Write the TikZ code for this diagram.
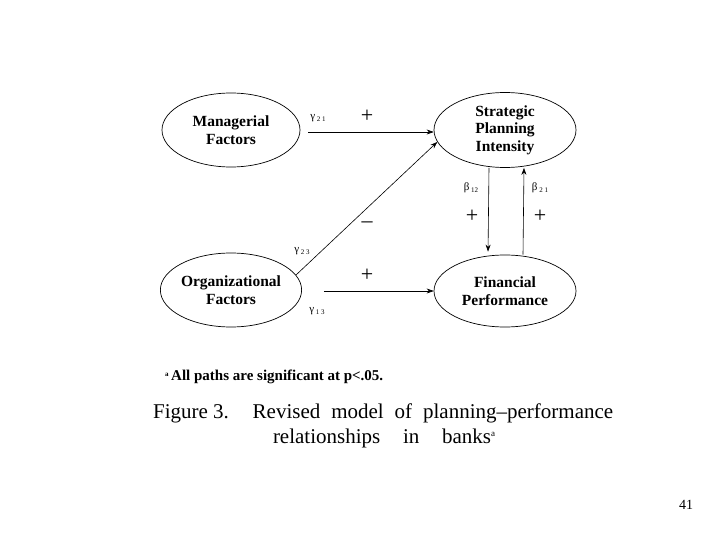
\documentclass[tikz,border=0pt]{standalone}
\usepackage{fontspec}
\setmainfont{Liberation Serif}
\usetikzlibrary{shapes.geometric,arrows.meta}
\tikzset{
  latent/.style={draw, ellipse, line width=0.7pt, inner sep=0pt, align=center,
     font=\fontsize{15.5}{17.5}\selectfont\bfseries},
  arr/.style={-{Stealth[length=7pt,width=5pt]}, line width=0.6pt},
  coef/.style={font=\fontsize{11}{12}\selectfont, inner sep=0pt},
  sign/.style={font=\fontsize{22}{22}\selectfont, inner sep=0pt},
}
\newcommand{\coefl}[2]{#1\,\raisebox{-0.35ex}{\fontsize{7}{8}\selectfont #2}}
\begin{document}
\begin{tikzpicture}[x=1pt,y=-1pt]
\useasboundingbox (0,0) rectangle (720,540);
\node[latent, minimum width=138pt, minimum height=74pt] (mf) at (231,130) {Managerial\\Factors};
\node[latent, minimum width=142pt, minimum height=75pt] (spi) at (505,130) {Strategic\\Planning\\Intensity};
\node[latent, minimum width=138pt, minimum height=74pt] (of) at (231,290) {Organizational\\Factors};
\node[latent, minimum width=142pt, minimum height=72pt] (fp) at (505,291) {Financial\\Performance};

\draw[arr] ([xshift=8pt,yshift=-2pt]mf.east) -- ([yshift=-2pt]spi.west);
\draw[arr] ([xshift=22pt]of.east |- fp.west) -- (fp.west);
\draw[arr] (of.13) -- (spi.190);
\draw[arr, shorten >=3pt] ([xshift=-16pt]spi.south) -- ([xshift=-17pt]fp.north);
\draw[arr] ([xshift=18pt]fp.north) -- ([xshift=19pt]spi.south);

\node[coef] (g21) at (318,118) {\coefl{γ}{2 1}};
\node[sign] (p1) at (367,116) {+};
\node[coef] (g23) at (302,251) {\coefl{γ}{2 3}};
\node[sign] (m1) at (367,225) {\textendash};
\node[sign] (p2) at (367,275) {+};
\node[coef] (g13) at (317,311) {\coefl{γ}{1 3}};
\node[coef] (b12) at (471,188) {\coefl{β}{12}};
\node[coef] (b21) at (540,188) {\coefl{β}{2 1}};
\node[sign] (p3) at (472,216) {+};
\node[sign] (p4) at (540,216) {+};

\node[anchor=west, inner sep=0pt, font=\fontsize{15}{17}\selectfont\bfseries] (fn) at (165,377)
  {\raisebox{0.6ex}{\fontsize{7}{8}\selectfont a}\,All paths are significant at p<.05.};
\node[anchor=west, inner sep=0pt, font=\fontsize{21}{23}\selectfont] (cap1) at (153,413)
  {\makebox[460pt][s]{Figure\hspace{5pt}3. Revised model of planning\textendash performance}};
\node[inner sep=0pt, font=\fontsize{21}{23}\selectfont] (cap2) at (384,438)
  {\makebox[222pt][s]{relationships in banks\raisebox{0.7ex}{\fontsize{9}{10}\selectfont a}}};
\node[inner sep=0pt, font=\fontsize{14}{16}\selectfont] (pg) at (686,505) {41};
\end{tikzpicture}
\end{document}
